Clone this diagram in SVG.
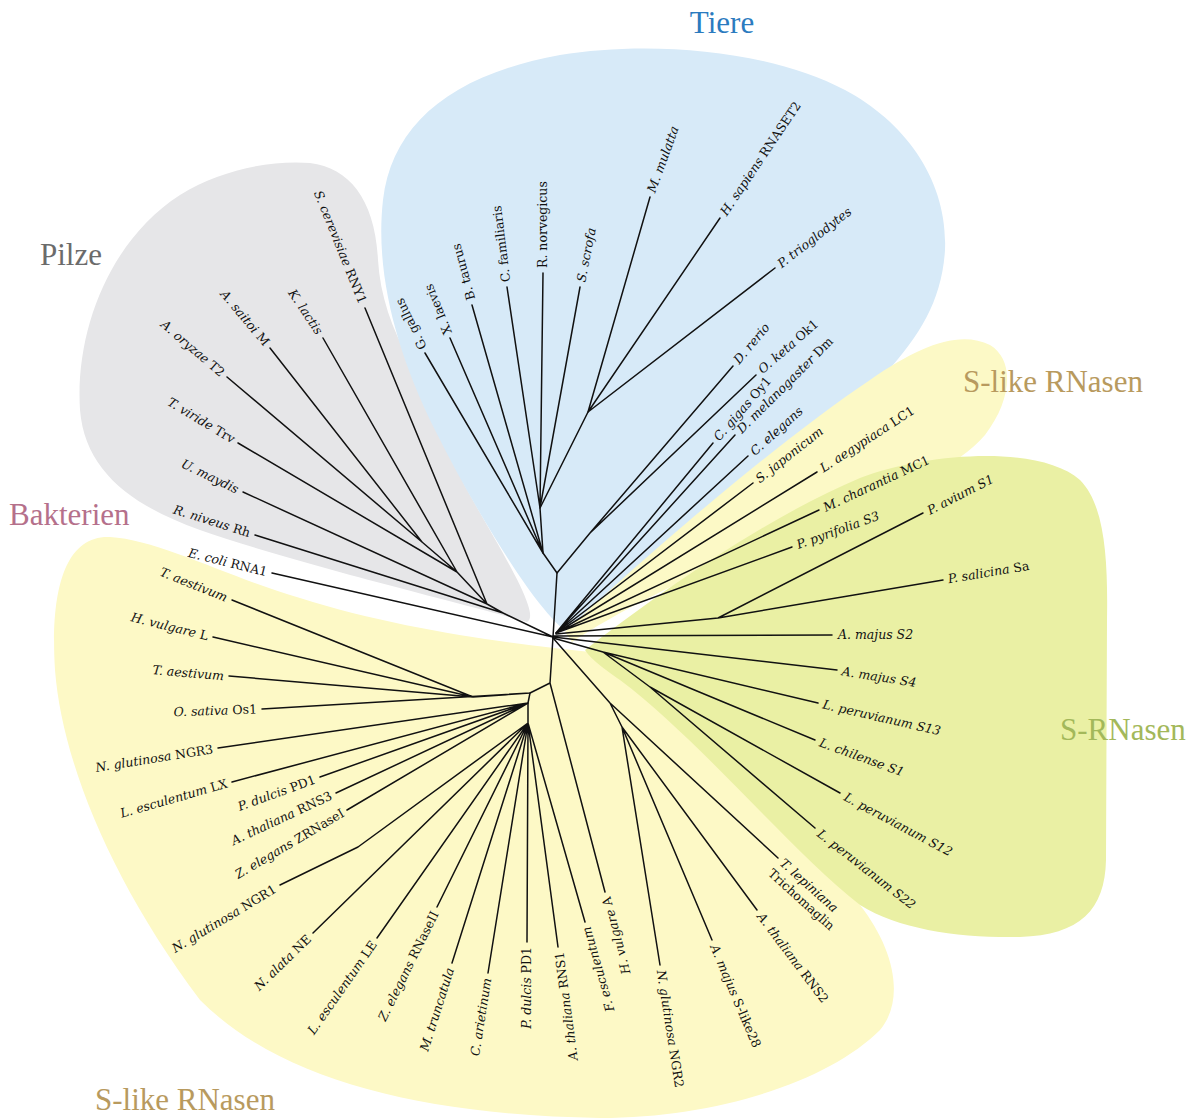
<svg xmlns="http://www.w3.org/2000/svg" width="1194" height="1120" viewBox="0 0 1194 1120">
<style>
.lb{font-family:"DejaVu Serif",serif;font-size:12.5px;fill:#111111}
.i{font-style:italic}
.e{text-anchor:end}
.grp{font-family:"Liberation Serif",serif;font-size:31px}
.ed{fill:none;stroke:#111111;stroke-width:1.5;stroke-linecap:round;stroke-linejoin:round}
</style>
<rect width="1194" height="1120" fill="#ffffff"/>
<g id="clades">
<path id="clade-pilze" fill="#e6e6e8" d="M527,622 C470,605 300,565 200,530 C130,505 85,470 80,410 C75,330 110,240 180,195 C220,170 270,160 310,163 C350,168 375,200 378,260 C380,295 392,330 410,360 C430,395 445,450 470,495 C495,540 520,580 528,605 C531,614 531,620 527,622 Z"/>
<path id="clade-tiere" fill="#d7eaf8" d="M562,628 C530,600 475,510 435,430 C395,350 375,270 383,200 C392,125 450,75 560,55 C650,40 770,50 845,90 C905,122 948,180 945,250 C942,300 920,335 887,372 C830,430 740,505 660,565 C610,600 585,620 562,628 Z"/>
<path id="clade-slike-upper" fill="#fcf9c6" d="M565,632 C640,560 780,440 870,380 C920,345 960,330 990,345 C1015,360 1012,400 985,435 C950,475 880,500 800,530 C700,570 620,610 572,642 Z"/>
<path id="clade-slike-lower" fill="#fdf9c6" d="M590,652 C520,645 400,630 300,598 C230,578 160,540 110,537 C65,535 50,590 55,670 C62,760 110,880 200,1000 C280,1080 420,1115 600,1118 C720,1118 830,1080 880,1030 C905,1000 895,950 860,905 C790,820 680,700 590,652 Z"/>
<path id="clade-srnasen" fill="#eaf0a4" d="M585,650 C650,600 760,520 860,478 C930,452 1040,445 1080,480 C1105,505 1108,560 1107,620 L1106,860 C1105,910 1080,935 1020,937 C960,938 900,930 860,905 C790,850 700,740 620,680 C600,666 590,658 585,650 Z"/>
</g>
<g id="group-labels">
<text id="lbl-tiere" class="grp" x="722" y="33" text-anchor="middle" fill="#2b7bbf">Tiere</text>
<text id="lbl-pilze" class="grp" x="40" y="265" fill="#6b6b6b">Pilze</text>
<text id="lbl-bakterien" class="grp" x="9" y="525" fill="#b5708b">Bakterien</text>
<text id="lbl-slike-top" class="grp" x="963" y="392" fill="#b89a5e">S-like RNasen</text>
<text id="lbl-srnasen" class="grp" x="1060" y="740" font-size="29" fill="#a3b85a">S-RNasen</text>
<text id="lbl-slike-bottom" class="grp" x="95" y="1110" fill="#b89a5e">S-like RNasen</text>
</g>
<g id="connectors" class="ed">
<path d="M553,637 L557,573 L543,553 L540,508 L588,412"/>
<path d="M557,573 L590,533 L733,366 M590,533 L756,375"/>
<path d="M543,553 L425,353 M543,553 L450,338 M543,553 L472,305"/>
<path d="M540,508 L507,287 M540,508 L543,273 M540,508 L580,287"/>
<path d="M588,412 L650,197 M588,412 L720,218 M588,412 L775,268"/>
<path d="M556,633 L713,443 M556,633 L735,435 M556,633 L748,456 M556,633 L753,483"/>
<path d="M556,633 L817,472 M556,633 L819,510 M556,633 L792,547"/>
<path d="M556,634 L718,618 L923,513 M718,618 L943,580"/>
<path d="M553,636 L832,635 M553,637 L837,670"/>
<path d="M553,638 L603,652 L818,703 M603,652 L815,740 M603,652 L650,687 L840,793 M650,687 L815,828"/>
<path d="M553,638 L610,703 L778,858 M610,703 L622,727 L757,910 M622,727 L712,940 M622,727 L660,965"/>
<path d="M553,637 L550,683 L605,892 M550,683 L530,693 L473,697 L232,600 M473,697 L213,637 M473,697 L229,676 M530,693 L262,709"/>
<path d="M530,693 L528,703 L218,748 M528,703 L232,782 M528,703 L320,777 M528,703 L336,793 M528,703 L347,810"/>
<path d="M528,703 L528,723 L358,847 L280,885 M528,723 L313,933 M528,723 L377,938 M528,723 L437,907 M528,723 L452,963 M528,723 L488,973 M528,723 L527,942 M528,723 L558,947 M528,723 L585,922"/>
<path d="M553,637 L272,573 M553,637 L503,613 L255,535 M503,613 L487,604 L243,492 M487,604 L365,308 M487,604 L457,572 L238,443 M457,572 L323,338 M457,572 L422,542 L227,377 M422,542 L270,348"/>
</g>
<g id="leaves">
<g id="n-g-gallus"><text class="lb" dy=".35em" transform="translate(423,349) rotate(-116)">G. gallus</text></g>
<g id="n-x-laevis"><text class="lb" dy=".35em" transform="translate(448,334) rotate(-112)">X. laevis</text></g>
<g id="n-b-taurus"><text class="lb" dy=".35em" transform="translate(471,300) rotate(-105)">B. taurus</text></g>
<g id="n-c-familiaris"><text class="lb" dy=".35em" transform="translate(506,282) rotate(-97)">C. familiaris</text></g>
<g id="n-r-norvegicus"><text class="lb" dy=".35em" transform="translate(543,268) rotate(-90)">R. norvegicus</text></g>
<g id="n-s-scrofa"><text class="lb i" dy=".35em" transform="translate(581,282) rotate(-79)">S. scrofa</text></g>
<g id="n-m-mulatta"><text class="lb i" dy=".35em" transform="translate(651,192) rotate(-70)">M. mulatta</text></g>
<g id="n-h-sapiens"><text class="lb" dy=".35em" transform="translate(723,214) rotate(-56)"><tspan class="i">H. sapiens</tspan> RNASET2</text></g>
<g id="n-p-trioglodytes"><text class="lb i" dy=".35em" transform="translate(779,265) rotate(-38)">P. trioglodytes</text></g>
<g id="n-d-rerio"><text class="lb i" dy=".35em" transform="translate(736,362) rotate(-50)">D. rerio</text></g>
<g id="n-o-keta"><text class="lb" dy=".35em" transform="translate(760,371) rotate(-41)"><tspan class="i">O. keta</tspan> Ok1</text></g>
<g id="n-c-gigas"><text class="lb" dy=".35em" transform="translate(716,439) rotate(-49)"><tspan class="i">C. gigas</tspan> Oy1</text></g>
<g id="n-d-melanogaster"><text class="lb" dy=".35em" transform="translate(739,431) rotate(-45)"><tspan class="i">D. melanogaster</tspan> Dm</text></g>
<g id="n-c-elegans"><text class="lb i" dy=".35em" transform="translate(752,453) rotate(-42)">C. elegans</text></g>
<g id="n-s-japonicum"><text class="lb i" dy=".35em" transform="translate(757,480) rotate(-38)">S. japonicum</text></g>
<g id="n-l-aegypiaca"><text class="lb" dy=".35em" transform="translate(821,469) rotate(-33)"><tspan class="i">L. aegypiaca</tspan> LC1</text></g>
<g id="n-m-charantia"><text class="lb" dy=".35em" transform="translate(824,508) rotate(-25)"><tspan class="i">M. charantia</tspan> MC1</text></g>
<g id="n-p-pyrifolia"><text class="lb i" dy=".35em" transform="translate(797,545) rotate(-20)">P. pyrifolia S3</text></g>
<g id="n-p-avium"><text class="lb i" dy=".35em" transform="translate(928,511) rotate(-27)">P. avium S1</text></g>
<g id="n-p-salicina"><text class="lb" dy=".35em" transform="translate(948,579) rotate(-9.5)"><tspan class="i">P. salicina</tspan> Sa</text></g>
<g id="n-a-majus-s2"><text class="lb i" dy=".35em" transform="translate(838,635)">A. majus S2</text></g>
<g id="n-a-majus-s4"><text class="lb i" dy=".35em" transform="translate(842,671) rotate(9)">A. majus S4</text></g>
<g id="n-l-peruvianum-s13"><text class="lb i" dy=".35em" transform="translate(823,704) rotate(13)">L. peruvianum S13</text></g>
<g id="n-l-chilense-s1"><text class="lb i" dy=".35em" transform="translate(820,742) rotate(20)">L. chilense S1</text></g>
<g id="n-l-peruvianum-s12"><text class="lb i" dy=".35em" transform="translate(845,796) rotate(28)">L. peruvianum S12</text></g>
<g id="n-l-peruvianum-s22"><text class="lb i" dy=".35em" transform="translate(819,832) rotate(38)">L. peruvianum S22</text></g>
<g id="n-t-lepiniana"><text class="lb" transform="translate(782,861) rotate(42)"><tspan class="i" x="0" dy=".35em">T. lepiniana</tspan><tspan x="-2" dy="1.25em">Trichomaglin</tspan></text></g>
<g id="n-a-thaliana-rns2"><text class="lb" dy=".35em" transform="translate(760,914) rotate(53)"><tspan class="i">A. thaliana</tspan> RNS2</text></g>
<g id="n-a-majus-slike28"><text class="lb" dy=".35em" transform="translate(714,945) rotate(67)"><tspan class="i">A. majus</tspan> S-like28</text></g>
<g id="n-n-glutinosa-ngr2"><text class="lb" dy=".35em" transform="translate(661,970) rotate(81)"><tspan class="i">N. glutinosa</tspan> NGR2</text></g>
<g id="n-h-vulgare-a"><text class="lb e" dy=".35em" transform="translate(606,897) rotate(-104.7)"><tspan class="i">H. vulgare</tspan> A</text></g>
<g id="n-f-esculentum"><text class="lb e i" dy=".35em" transform="translate(586,927) rotate(-106)">F. esculentum</text></g>
<g id="n-a-thaliana-rns1"><text class="lb e" dy=".35em" transform="translate(559,952) rotate(-97.6)"><tspan class="i">A. thaliana</tspan> RNS1</text></g>
<g id="n-p-dulcis-pd1-b"><text class="lb e" dy=".35em" transform="translate(527,947) rotate(-90)"><tspan class="i">P. dulcis</tspan> PD1</text></g>
<g id="n-c-arietinum"><text class="lb e i" dy=".35em" transform="translate(487,978) rotate(-81)">C. arietinum</text></g>
<g id="n-m-truncatula"><text class="lb e i" dy=".35em" transform="translate(450,968) rotate(-72.4)">M. truncatula</text></g>
<g id="n-z-elegans-rnaseii"><text class="lb e" dy=".35em" transform="translate(435,912) rotate(-63.7)"><tspan class="i">Z. elegans</tspan> RNaseII</text></g>
<g id="n-l-esculentum-le"><text class="lb e" dy=".35em" transform="translate(374,942) rotate(-55)"><tspan class="i">L. esculentum</tspan> LE</text></g>
<g id="n-n-alata-ne"><text class="lb e" dy=".35em" transform="translate(309,937) rotate(-44)"><tspan class="i">N. alata</tspan> NE</text></g>
<g id="n-n-glutinosa-ngr1"><text class="lb e" dy=".35em" transform="translate(275,888) rotate(-31)"><tspan class="i">N. glutinosa</tspan> NGR1</text></g>
<g id="n-z-elegans-zrnasei"><text class="lb e" dy=".35em" transform="translate(343,812) rotate(-30.6)"><tspan class="i">Z. elegans</tspan> ZRNaseI</text></g>
<g id="n-a-thaliana-rns3"><text class="lb e" dy=".35em" transform="translate(331,795) rotate(-25)"><tspan class="i">A. thaliana</tspan> RNS3</text></g>
<g id="n-p-dulcis-pd1-a"><text class="lb e" dy=".35em" transform="translate(315,779) rotate(-20)"><tspan class="i">P. dulcis</tspan> PD1</text></g>
<g id="n-l-esculentum-lx"><text class="lb e" dy=".35em" transform="translate(227,783) rotate(-16)"><tspan class="i">L. esculentum</tspan> LX</text></g>
<g id="n-n-glutinosa-ngr3"><text class="lb e" dy=".35em" transform="translate(213,749) rotate(-9)"><tspan class="i">N. glutinosa</tspan> NGR3</text></g>
<g id="n-o-sativa"><text class="lb e" dy=".35em" transform="translate(257,709) rotate(-2)"><tspan class="i">O. sativa</tspan> Os1</text></g>
<g id="n-t-aestivum-2"><text class="lb e i" dy=".35em" transform="translate(224,676) rotate(5)">T. aestivum</text></g>
<g id="n-h-vulgare-l"><text class="lb e" dy=".35em" transform="translate(208,636) rotate(14)"><tspan class="i">H. vulgare</tspan> L</text></g>
<g id="n-t-aestivum-1"><text class="lb e i" dy=".35em" transform="translate(227,598) rotate(22)">T. aestivum</text></g>
<g id="n-e-coli"><text class="lb e" dy=".35em" transform="translate(267,572) rotate(14)"><tspan class="i">E. coli</tspan> RNA1</text></g>
<g id="n-r-niveus"><text class="lb e" dy=".35em" transform="translate(250,533) rotate(17.5)"><tspan class="i">R. niveus</tspan> Rh</text></g>
<g id="n-u-maydis"><text class="lb e i" dy=".35em" transform="translate(238,490) rotate(26)">U. maydis</text></g>
<g id="n-t-viride"><text class="lb e" dy=".35em" transform="translate(234,440) rotate(31)"><tspan class="i">T. viride</tspan> Trv</text></g>
<g id="n-a-oryzae"><text class="lb e" dy=".35em" transform="translate(223,374) rotate(40.5)"><tspan class="i">A. oryzae</tspan> T2</text></g>
<g id="n-a-saitoi"><text class="lb e" dy=".35em" transform="translate(267,344) rotate(50)"><tspan class="i">A. saitoi</tspan> M</text></g>
<g id="n-k-lactis"><text class="lb e i" dy=".35em" transform="translate(320,333) rotate(56)">K. lactis</text></g>
<g id="n-s-cerevisiae"><text class="lb e" dy=".35em" transform="translate(363,303) rotate(68)"><tspan class="i">S. cerevisiae</tspan> RNY1</text></g>
</g>
</svg>
